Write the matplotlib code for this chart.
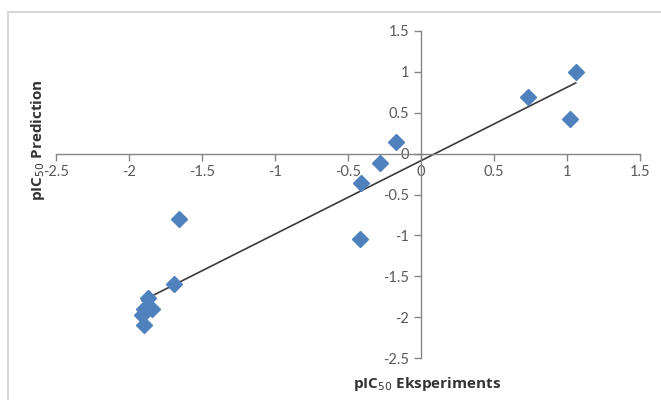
import numpy as np
import matplotlib
matplotlib.use("Agg")
import matplotlib.pyplot as plt
from matplotlib.patches import Rectangle

# Data
exp_x = [1.06, 0.73, 1.02, -0.17, -0.28, -0.41, -0.42, -1.66, -1.69,
         -1.87, -1.90, -1.84, -1.91, -1.90]
pred_y = [1.00, 0.69, 0.42, 0.14, -0.11, -0.36, -1.05, -0.80, -1.59,
          -1.76, -1.90, -1.90, -1.98, -2.10]
x_ticks = [-2.5, -2, -1.5, -1, -0.5, 0, 0.5, 1, 1.5]
y_ticks = [-2.5, -2, -1.5, -1, -0.5, 0, 0.5, 1, 1.5]
x_tick_labels = ["-2.5", "-2", "-1.5", "-1", "-0.5", "0", "0.5", "1", "1.5"]
y_tick_labels = ["-2.5", "-2", "-1.5", "-1", "-0.5", "0", "0.5", "1", "1.5"]

fig = plt.figure(figsize=(6.61, 4.0), dpi=100)
fig.patch.set_facecolor("white")
# light chart frame
fig.patches.append(Rectangle((8/661, -0.1), 1.2, 1 - 12/400 + 0.1,
                             transform=fig.transFigure, fill=False,
                             edgecolor="#D0D0D0", linewidth=1.2))

ax = fig.add_axes([56/661, 1 - 358/400, (640 - 56)/661, (358 - 31)/400])
ax.set_xlim(-2.5, 1.5)
ax.set_ylim(-2.5, 1.5)

for s in ["top", "right"]:
    ax.spines[s].set_visible(False)
ax.spines["left"].set_position(("data", 0))
ax.spines["bottom"].set_position(("data", 0))
for s in ["left", "bottom"]:
    ax.spines[s].set_color("#868686")
    ax.spines[s].set_linewidth(1.0)

ax.set_xticks(x_ticks)
ax.set_xticklabels(x_tick_labels)
ax.set_yticks(y_ticks)
ax.set_yticklabels(y_tick_labels)
ax.tick_params(axis="both", direction="out", length=5, width=1.0,
               color="#868686", labelcolor="#595959", labelsize=10.5)
for lab in ax.get_xticklabels() + ax.get_yticklabels():
    lab.set_family("Lato")

# trendline
xs = np.array(exp_x)
ys = np.array(pred_y)
m, b = np.polyfit(xs, ys, 1)
xl = np.array([xs.min(), xs.max()])
ax.plot(xl, m * xl + b, color="#3A3A3A", linewidth=1.2, zorder=2)

ax.plot(exp_x, pred_y, linestyle="none", marker="D", markersize=8,
        color="#4F81BD", markeredgecolor="#4F81BD", zorder=3)

fig.text(38/661, 1 - 140/400, r"pIC$_{50}$ Prediction", rotation=90,
         ha="center", va="center", fontsize=11, fontweight="bold",
         color="#333333", family="Open Sans")
fig.text(427/661, 1 - 384/400, r"pIC$_{50}$ Eksperiments",
         ha="center", va="center", fontsize=11, fontweight="bold",
         color="#333333", family="Open Sans")

fig.savefig("out.png", dpi=100)
